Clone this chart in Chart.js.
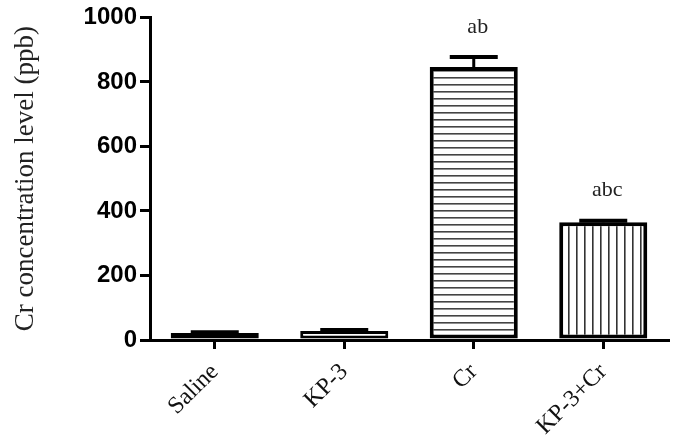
<!DOCTYPE html>
<html>
<head>
<meta charset="utf-8">
<script src="https://cdn.jsdelivr.net/npm/chart.js@4"></script>
<style>
  html, body { margin: 0; padding: 0; background: #fff; }
  #wrap { width: 678px; height: 435px; }
</style>
</head>
<body>
<div id="wrap"><canvas id="chartCr"></canvas></div>
<script>
const groups = ['Saline', 'KP-3', 'Cr', 'KP-3+Cr'];
const meanPpb = [22, 28, 846, 365];
const semPpb = [2, 3, 31, 5];
const sigLetters = ['', '', 'ab', 'abc'];
const yTicks = [0, 200, 400, 600, 800, 1000];

function hatch(kind){
  const c = document.createElement('canvas');
  const g = c.getContext('2d');
  if (kind === 'h') {
    c.width = 4; c.height = 7;
    g.fillStyle = '#fff'; g.fillRect(0, 0, 4, 7);
    g.fillStyle = '#444'; g.fillRect(0, 0, 4, 1.6);
  } else if (kind === 'v') {
    c.width = 8.5; c.height = 4;
    g.fillStyle = '#fff'; g.fillRect(0, 0, 9, 4);
    g.fillStyle = '#333'; g.fillRect(0, 0, 1.6, 4);
  } else {
    return kind;
  }
  return document.getElementById('chartCr').getContext('2d').createPattern(c, 'repeat');
}

const fills = [hatch('#b0b0b0'), hatch('#ffffff'), hatch('h'), hatch('v')];

// error bars + letters drawn from scale positions
const errorBars = {
  id: 'errorBars',
  afterDatasetsDraw(chart){
    const { ctx, scales: { x, y } } = chart;
    ctx.save();
    ctx.strokeStyle = '#000';
    meanPpb.forEach((v, i) => {
      const cx = x.getPixelForValue(i);
      const top = y.getPixelForValue(v + semPpb[i]);
      const base = y.getPixelForValue(v);
      ctx.lineWidth = 3;
      ctx.beginPath(); ctx.moveTo(cx, base); ctx.lineTo(cx, top); ctx.stroke();
      ctx.lineWidth = 4;
      ctx.beginPath(); ctx.moveTo(cx - 24, top); ctx.lineTo(cx + 24, top); ctx.stroke();
      if (sigLetters[i]) {
        ctx.fillStyle = '#222';
        ctx.font = '22px "Liberation Serif", "Times New Roman", serif';
        ctx.textAlign = 'center';
        ctx.textBaseline = 'middle';
        ctx.fillText(sigLetters[i], cx + 4, top - 30);
      }
    });
    ctx.restore();
  }
};

new Chart(document.getElementById('chartCr'), {
  type: 'bar',
  data: {
    labels: groups,
    datasets: [{
      data: meanPpb,
      backgroundColor: fills,
      borderColor: '#000',
      borderWidth: [3, 3, 4, 4],
      borderSkipped: false,
      categoryPercentage: 1,
      barPercentage: 0.68
    }]
  },
  options: {
    responsive: true,
    maintainAspectRatio: false,
    animation: false,
    layout: { padding: { top: 16, right: 10, left: 0, bottom: 0 } },
    plugins: { legend: { display: false }, tooltip: { enabled: false } },
    scales: {
      x: {
        afterFit(s){ s.height = 95; },
        grid: { display: true, drawOnChartArea: false, offset: false, tickLength: 9, color: '#000', lineWidth: 3 },
        border: { display: true, color: '#000', width: 3 },
        ticks: {
          minRotation: 45, maxRotation: 45, padding: 9,
          color: '#111',
          font: { family: '"Liberation Serif", "Times New Roman", serif', size: 24 }
        }
      },
      y: {
        min: 0, max: 1000,
        afterFit(s){ s.width = 150; },
        afterBuildTicks(s){ s.ticks = yTicks.map(v => ({ value: v })); },
        grid: { display: true, drawOnChartArea: false, tickLength: 10, color: '#000', lineWidth: 3 },
        border: { display: true, color: '#000', width: 3 },
        ticks: {
          padding: 3,
          color: '#000',
          callback: v => String(v),
          font: { family: '"Liberation Sans", Arial, sans-serif', size: 24, weight: 'bold' }
        },
        title: {
          display: true,
          text: 'Cr concentration level (ppb)',
          color: '#222',
          padding: { top: 10, bottom: 0 },
          font: { family: '"Liberation Serif", "Times New Roman", serif', size: 27 }
        }
      }
    }
  },
  plugins: [errorBars]
});
</script>
</body>
</html>
